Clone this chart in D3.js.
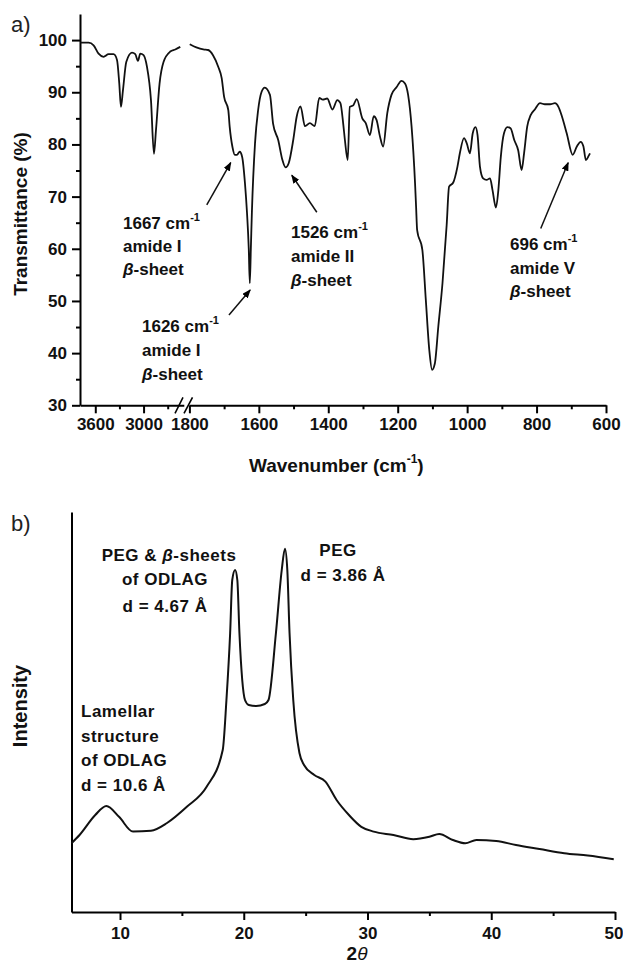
<!DOCTYPE html>
<html>
<head>
<meta charset="utf-8">
<script src="https://cdn.jsdelivr.net/npm/d3@7"></script>
<style>
body { margin: 0; background: #fff; }
text { font-family: "Liberation Sans", Arial, sans-serif; }
</style>
</head>
<body>
<div id="chart"></div>
<script>
// FTIR spectrum, high wavenumber part (left of the axis break)
const irLeftWn = [3786, 3683, 3621, 3559, 3497, 3435, 3373, 3330, 3302, 3281, 3256, 3215, 3144, 3103, 3070, 3041, 3000, 2958, 2908, 2871, 2846, 2801, 2752, 2668, 2606, 2544];
const irLeftT = [99.5, 99.5, 99.0, 97.4, 96.8, 97.3, 97.3, 96.2, 91.7, 87.2, 90.4, 95.8, 97.6, 97.3, 96.0, 97.4, 97.1, 94.9, 88.5, 78.2, 82.7, 91.7, 95.8, 97.8, 98.2, 98.7];

// FTIR spectrum, fingerprint part (right of the break)
const irRightWn = [1799, 1780, 1760, 1746, 1732, 1717, 1707, 1700, 1688, 1684, 1676, 1669, 1663, 1655, 1648, 1640, 1634, 1629, 1626, 1623, 1620, 1611, 1602, 1592, 1583, 1568, 1559, 1544, 1532, 1523, 1514, 1501, 1491, 1480, 1467, 1453, 1439, 1426, 1416, 1403, 1388, 1374, 1365, 1357, 1352, 1344, 1338, 1328, 1318, 1302, 1292, 1280, 1269, 1261, 1251, 1242, 1230, 1218, 1203, 1189, 1179, 1170, 1160, 1150, 1147, 1144, 1129, 1119, 1109, 1101, 1093, 1083, 1071, 1059, 1052, 1040, 1028, 1021, 1009, 1001, 992, 984, 976, 970, 963, 954, 944, 934, 927, 917, 910, 903, 894, 884, 875, 864, 853, 843, 836, 827, 817, 805, 790, 776, 761, 747, 737, 728, 713, 696, 684, 673, 665, 658, 650, 646];
const irRightT = [99.2, 98.6, 98.2, 98.1, 97.1, 94.9, 92.7, 89.1, 86.6, 83.4, 79.5, 78.0, 78.0, 78.6, 77.6, 72.6, 66.8, 60.0, 53.4, 60.0, 67.0, 80.2, 86.6, 90.1, 90.9, 89.5, 84.0, 80.8, 77.0, 75.6, 76.4, 80.8, 85.3, 87.3, 83.5, 84.1, 83.5, 88.9, 88.6, 88.8, 86.7, 88.5, 87.9, 84.0, 80.8, 77.0, 87.2, 87.5, 88.7, 85.0, 84.1, 81.8, 85.4, 84.7, 81.5, 79.6, 86.0, 89.5, 91.0, 92.2, 91.7, 89.5, 83.4, 72.5, 68.0, 63.6, 59.8, 50.2, 40.6, 36.8, 38.0, 45.1, 53.4, 64.5, 71.9, 72.7, 75.7, 78.3, 81.2, 80.2, 78.3, 82.1, 83.3, 81.8, 75.7, 73.5, 73.2, 73.5, 71.3, 67.9, 71.3, 77.6, 82.1, 83.3, 83.1, 80.8, 78.9, 75.1, 78.3, 83.4, 85.6, 86.7, 87.9, 87.7, 87.7, 87.9, 87.2, 85.6, 82.1, 78.0, 79.6, 80.5, 79.6, 77.0, 77.8, 78.3];

const irYTicks = [30, 40, 50, 60, 70, 80, 90, 100];
const irYMinor = [35, 45, 55, 65, 75, 85, 95];
const irLeftTicks = [3600, 3000];
const irLeftMinor = [3300, 2700];
const irRightTicks = [1800, 1600, 1400, 1200, 1000, 800, 600];
const irRightMinor = [1700, 1500, 1300, 1100, 900, 700];

// XRD pattern (arbitrary intensity units)
const xrdTheta = [6.08, 6.73, 8.0, 8.9, 9.92, 11.05, 12.5, 13.8, 15.4, 17.0, 18.3, 18.6, 18.9, 19.07, 19.3, 19.48, 19.65, 20.1, 20.4, 21.0, 21.7, 22.0, 22.6, 23.07, 23.33, 23.52, 23.7, 24.0, 24.5, 24.87, 25.7, 26.6, 27.5, 28.5, 29.5, 30.5, 32.1, 33.7, 35.0, 35.8, 36.9, 37.9, 38.8, 40.4, 42.0, 43.9, 45.9, 47.8, 49.9];
const xrdIntensity = [17.2, 19.25, 24.25, 26.5, 23.8, 20.1, 20.3, 22.25, 26.3, 31.3, 40.5, 53, 69.75, 83, 85.5, 83, 69.75, 53, 51.75, 51.5, 52, 53, 69.75, 85.5, 90.8, 85.5, 69.75, 53, 39.75, 36.75, 34.25, 32.6, 28, 24.25, 21.3, 20.1, 19.25, 18.2, 18.8, 19.5, 18, 17.2, 18, 17.75, 16.75, 15.75, 14.7, 14.1, 13.2];
const xrdTicks = [10, 20, 30, 40, 50];
const xrdMinor = [15, 25, 35, 45];

const width = 623, height = 964;
const svg = d3.select("#chart").append("svg")
    .attr("width", width)
    .attr("height", height);

svg.append("defs").append("marker")
    .attr("id", "arrow")
    .attr("markerUnits", "userSpaceOnUse")
    .attr("markerWidth", 9)
    .attr("markerHeight", 7)
    .attr("refX", 8)
    .attr("refY", 3.5)
    .attr("orient", "auto")
    .append("path")
    .attr("d", "M0,0 L9,3.5 L0,7 z")
    .attr("fill", "#000");

const fmt = d3.format("d");

function styleAxis(g, fontSize) {
    g.attr("font-family", null).attr("font-size", null);
    g.selectAll("path, line").attr("stroke", "#000").attr("stroke-width", 2);
    g.selectAll("text")
        .style("font-size", fontSize + "px")
        .style("font-weight", "bold")
        .attr("fill", "#111");
}

function minorAxis(axis, g) {
    g.call(axis.tickSize(4).tickFormat(""));
    g.select(".domain").remove();
    g.selectAll("line").attr("stroke", "#000").attr("stroke-width", 2);
}

// ================= panel a : FTIR =================
const xL = d3.scaleLinear().domain([3790, 2500]).range([80, 183.8]);
const xR = d3.scaleLinear().domain([1800, 600]).range([189.4, 606]);
const yA = d3.scaleLinear().domain([30, 105]).range([405.3, 14]);

const gA = svg.append("g");

gA.append("g").attr("transform", "translate(80,0)")
    .call(d3.axisLeft(yA).tickValues(irYTicks).tickFormat(fmt).tickSize(8).tickPadding(5).tickSizeOuter(0))
    .call(g => styleAxis(g, 17));
minorAxis(d3.axisLeft(yA).tickValues(irYMinor), gA.append("g").attr("transform", "translate(80,0)"));

const xAxY = yA(30);
gA.append("g").attr("transform", `translate(0,${xAxY})`)
    .call(d3.axisBottom(xL).tickValues(irLeftTicks).tickFormat(fmt).tickSize(8).tickPadding(5).tickSizeOuter(0))
    .call(g => styleAxis(g, 17));
minorAxis(d3.axisBottom(xL).tickValues(irLeftMinor), gA.append("g").attr("transform", `translate(0,${xAxY})`));

gA.append("g").attr("transform", `translate(0,${xAxY})`)
    .call(d3.axisBottom(xR).tickValues(irRightTicks).tickFormat(fmt).tickSize(8).tickPadding(5).tickSizeOuter(0))
    .call(g => styleAxis(g, 17));
minorAxis(d3.axisBottom(xR).tickValues(irRightMinor), gA.append("g").attr("transform", `translate(0,${xAxY})`));

// axis break marks
[[175, 183], [184, 192.5]].forEach(([x0, x1]) => {
    gA.append("line")
        .attr("x1", x0).attr("y1", xAxY + 8)
        .attr("x2", x1).attr("y2", xAxY - 8)
        .attr("stroke", "#000").attr("stroke-width", 1.6);
});

const lineL = d3.line().x(d => xL(d[0])).y(d => yA(d[1])).curve(d3.curveMonotoneX);
const lineR = d3.line().x(d => xR(d[0])).y(d => yA(d[1])).curve(d3.curveMonotoneX);

gA.append("path")
    .datum(irLeftWn.map((w, i) => [w, irLeftT[i]]))
    .attr("d", lineL)
    .attr("fill", "none").attr("stroke", "#111").attr("stroke-width", 1.8);

gA.append("path")
    .datum(irRightWn.map((w, i) => [w, irRightT[i]]))
    .attr("d", lineR)
    .attr("fill", "none").attr("stroke", "#111").attr("stroke-width", 1.8);

// titles
svg.append("text").attr("x", 11).attr("y", 32)
    .style("font-size", "22px").attr("fill", "#222").text("a)");

svg.append("text")
    .attr("transform", "translate(27,214) rotate(-90)")
    .attr("text-anchor", "middle")
    .style("font-size", "19px").style("font-weight", "bold").attr("fill", "#111")
    .text("Transmittance (%)");

const xTitle = svg.append("text").attr("x", 249).attr("y", 472)
    .style("font-size", "19px").style("font-weight", "bold").attr("fill", "#111");
xTitle.append("tspan").text("Wavenumber (cm");
xTitle.append("tspan").attr("dy", -9).style("font-size", "12px").text("-1");
xTitle.append("tspan").attr("dy", 9).text(")");

// annotations (arrows in data units)
const arrows = [
    [1750, 68.4, 1681, 76.5],
    [1686, 47.3, 1625, 52.1],
    [1433, 67.0, 1505, 74.1],
    [788, 63.9, 709, 76.5]
];
arrows.forEach(a => {
    gA.append("line")
        .attr("x1", xR(a[0])).attr("y1", yA(a[1]))
        .attr("x2", xR(a[2])).attr("y2", yA(a[3]))
        .attr("stroke", "#111").attr("stroke-width", 1.5)
        .attr("marker-end", "url(#arrow)");
});

function annot(g, x, y, lines, step, anchor, size, spacing) {
    lines.forEach((ln, i) => {
        const t = g.append("text")
            .attr("x", x).attr("y", y + i * step)
            .attr("text-anchor", anchor || "start")
            .style("font-size", (size || 17) + "px")
            .style("font-weight", "bold")
            .style("letter-spacing", (spacing || 0) + "px")
            .attr("fill", "#111");
        ln.forEach(part => {
            const s = t.append("tspan").text(part.t);
            if (part.i) s.style("font-style", "italic");
            if (part.sup) s.attr("dy", -8).style("font-size", "11px");
        });
    });
}

const cmLine = num => [{ t: num + " cm" }, { t: "-1", sup: true }];
const betaLine = [{ t: "β", i: true }, { t: "-sheet" }];

annot(gA, 123, 229, [cmLine("1667"), [{ t: "amide I" }], betaLine], 23);
annot(gA, 142, 332, [cmLine("1626"), [{ t: "amide I" }], betaLine], 24);
annot(gA, 291, 238, [cmLine("1526"), [{ t: "amide II" }], betaLine], 24);
annot(gA, 510, 250, [cmLine("696"), [{ t: "amide V" }], betaLine], 23.5);

// ================= panel b : XRD =================
const xB = d3.scaleLinear().domain([6.08, 50]).range([71.5, 615]);
const yB = d3.scaleLinear().domain([0, 100]).range([912, 512]);

const gB = svg.append("g");

gB.append("g").attr("transform", "translate(71.5,0)")
    .call(d3.axisLeft(yB).tickValues([]).tickSizeOuter(0))
    .call(g => styleAxis(g, 17));

gB.append("g").attr("transform", `translate(0,${yB(0)})`)
    .call(d3.axisBottom(xB).tickValues(xrdTicks).tickFormat(fmt).tickSize(8).tickPadding(7).tickSizeOuter(0))
    .call(g => styleAxis(g, 17))
    .call(g => g.selectAll(".tick text").filter(d => d === 50).attr("text-anchor", "end").attr("dx", 8));
minorAxis(d3.axisBottom(xB).tickValues(xrdMinor), gB.append("g").attr("transform", `translate(0,${yB(0)})`));

gB.append("path")
    .datum(xrdTheta.map((t, i) => [t, xrdIntensity[i]]))
    .attr("d", d3.line().x(d => xB(d[0])).y(d => yB(d[1])).curve(d3.curveMonotoneX))
    .attr("fill", "none").attr("stroke", "#111").attr("stroke-width", 2);

svg.append("text").attr("x", 11).attr("y", 531)
    .style("font-size", "22px").attr("fill", "#222").text("b)");

svg.append("text")
    .attr("transform", "translate(27,706) rotate(-90)")
    .attr("text-anchor", "middle")
    .style("font-size", "20px").style("font-weight", "bold").attr("fill", "#111")
    .text("Intensity");

const tTitle = svg.append("text").attr("x", 357).attr("y", 960)
    .attr("text-anchor", "middle")
    .style("font-size", "19px").style("font-weight", "bold").attr("fill", "#111");
tTitle.append("tspan").text("2");
tTitle.append("tspan").style("font-style", "italic").style("font-weight", "normal").text("θ");

annot(gB, 169, 561, [[{ t: "PEG & " }, { t: "β", i: true }, { t: "-sheets" }]], 0, "middle", 17, 0.5);
annot(gB, 165, 585, [[{ t: "of ODLAG" }], [{ t: "d = 4.67 Å" }]], 26.5, "middle", 17, 0.5);
annot(gB, 338, 556, [[{ t: "PEG" }]], 0, "middle", 17, 0.5);
annot(gB, 343, 581, [[{ t: "d = 3.86 Å" }]], 0, "middle", 17, 0.5);
annot(gB, 81, 717, [[{ t: "Lamellar" }], [{ t: "structure" }], [{ t: "of ODLAG" }], [{ t: "d = 10.6 Å" }]], 24.5, "start", 17, 0.5);
</script>
</body>
</html>
